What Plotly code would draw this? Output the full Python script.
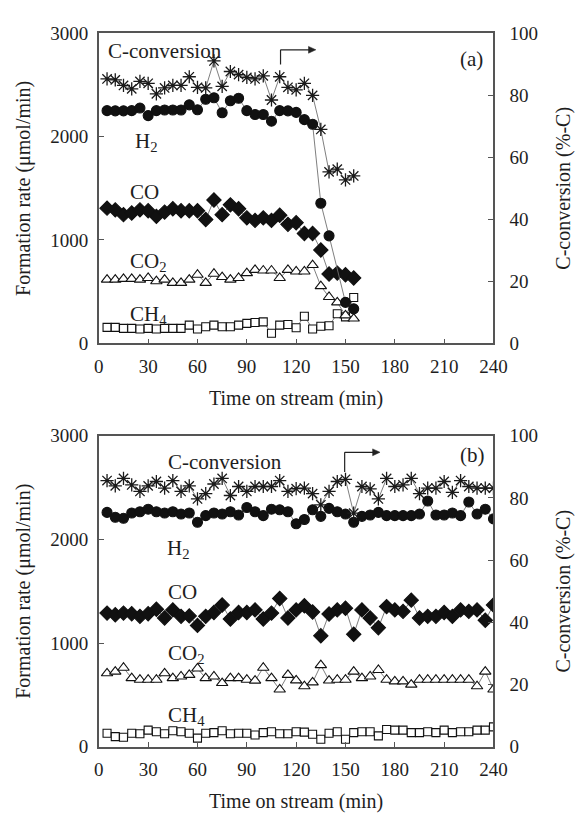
import plotly.graph_objects as go

# ---------------- data ----------------
ta = list(range(5, 160, 5))  # 31 points, panel (a)
h2_a = [2252, 2250, 2250, 2252, 2277, 2204, 2252, 2258, 2258, 2258,
        2308, 2260, 2362, 2377, 2232, 2348, 2372, 2252, 2215, 2215,
        2150, 2252, 2250, 2235, 2165, 2120, 1355, 1040, None, 396, 333]
co_a = [1308, 1292, 1245, 1261, 1292, 1283, 1229, 1270, 1302, 1283,
        1283, 1283, 1198, 1387, 1245, 1340, 1302, 1214, 1189, 1214,
        1189, 1239, 1151, 1167, 1063, 1063, 903, 670, 679, 663, 632]
co2_a = [616, 616, 623, 623, 616, 632, 601, 616, 585, 585,
         616, 663, 585, 673, 641, 616, 632, 679, 710, 704,
         704, 632, 710, 695, 695, 757, 553, 448, 396, 270, 239]
ch4_a = [154, 154, 144, 144, 138, 144, 138, 144, 144, 144,
         176, 138, 160, 176, 160, 160, 176, 192, 201, 207,
         97, 176, 182, 150, 262, 138, 165, 170, 286, 255, 443]
conv_a = [85.3, 85.0, 83.2, 82.1, 84.5, 83.9, 80.5, 82.4, 83.2, 83.2,
          86.0, 82.6, 82.4, 91.1, 82.9, 87.7, 86.7, 85.8, 85.3, 86.3,
          78.5, 86.0, 82.6, 81.8, 83.9, 80.0, 69.0, 55.3, 56.2, 52.7, 54.0]

tb = list(range(5, 245, 5))  # 48 points, panel (b)
h2_b = [2261, 2214, 2204, 2255, 2267, 2292, 2267, 2255, 2267, 2245,
        2255, 2166, 2230, 2255, 2245, 2267, 2236, 2308, 2267, 2230,
        2292, 2286, 2267, 2151, 2192, 2286, 2223, 2300, 2267, 2245,
        2166, 2223, 2236, 2261, 2230, 2230, 2230, 2230, 2245, 2371,
        2236, 2236, 2255, 2230, 2361, 2245, 2292, 2198]
co_b = [1289, 1273, 1289, 1283, 1258, 1283, 1326, 1242, 1320, 1258,
        1262, 1170, 1258, 1295, 1367, 1232, 1295, 1295, 1320, 1232,
        1289, 1430, 1242, 1320, 1360, 1300, 1070, 1280, 1320, 1336,
        1085, 1320, 1242, 1148, 1352, 1320, 1305, 1414, 1242, 1258,
        1258, 1295, 1258, 1320, 1305, 1320, 1220, 1367]
co2_b = [708, 724, 762, 661, 646, 646, 646, 708, 661, 677,
         693, 755, 661, 677, 614, 661, 661, 646, 637, 762,
         661, 552, 693, 640, 583, 620, 787, 638, 646, 646,
         724, 661, 677, 740, 646, 630, 630, 599, 646, 646,
         646, 646, 646, 646, 646, 583, 724, 552]
ch4_b = [129, 97, 91, 129, 125, 160, 144, 125, 154, 144,
         129, 82, 129, 135, 154, 125, 129, 129, 113, 135,
         144, 125, 125, 144, 140, 120, 72, 130, 144, 72,
         135, 144, 144, 104, 166, 160, 160, 135, 135, 144,
         135, 160, 135, 144, 144, 160, 160, 191]
conv_b = [85.6, 83.9, 86.3, 84.2, 82.1, 83.9, 85.3, 83.2, 85.6, 82.1,
          83.9, 79.7, 81.4, 84.5, 86.3, 80.8, 83.7, 82.1, 83.7, 83.7,
          83.7, 85.6, 82.1, 83.0, 83.2, 81.4, 77.8, 82.1, 85.3, 86.0,
          75.1, 83.7, 82.9, 79.7, 86.3, 83.7, 84.2, 86.3, 81.4, 83.2,
          83.2, 85.3, 81.8, 85.6, 83.7, 83.2, 83.2, 83.2]

x_ticks = [0, 30, 60, 90, 120, 150, 180, 210, 240]
left_ticks = [0, 1000, 2000, 3000]
right_ticks = [0, 20, 40, 60, 80, 100]

# ---------------- style ----------------
FONT = "Liberation Serif"
TXT = "#1e1e1e"
LINE = dict(color="#707070", width=0.9)
AX = "#555555"
INK = "#111111"

def series(x, y, sym, xa, ya, size, fill):
    return go.Scatter(
        x=x, y=y, xaxis=xa, yaxis=ya, mode="lines+markers",
        connectgaps=True, line=LINE, showlegend=False,
        marker=dict(symbol=sym, size=size, color=fill,
                    line=dict(color=INK, width=1.1)))

fig = go.Figure()
for (x, h2, co, co2, ch4, conv, xa, ya, ya2) in [
        (ta, h2_a, co_a, co2_a, ch4_a, conv_a, "x", "y", "y2"),
        (tb, h2_b, co_b, co2_b, ch4_b, conv_b, "x2", "y3", "y4")]:
    fig.add_trace(series(x, ch4, "square", xa, ya, 8, "white"))
    fig.add_trace(series(x, co2, "triangle-up", xa, ya, 10, "white"))
    fig.add_trace(series(x, co, "diamond", xa, ya, 11, INK))
    fig.add_trace(series(x, h2, "circle", xa, ya, 10, INK))
    fig.add_trace(go.Scatter(
        x=x, y=conv, xaxis=xa, yaxis=ya2, mode="lines+markers", showlegend=False,
        line=LINE,
        marker=dict(symbol="asterisk-open", size=11, color="#1a1a1a",
                    line=dict(color="#1a1a1a", width=1.3))))

W, H = 581, 821
xdom = [97 / W, 505 / W]
dom_a = [(H - 342) / H, (H - 24) / H]
dom_b = [(H - 756) / H, (H - 437) / H]

tickfont = dict(family=FONT, size=19, color=TXT)
titlefont = dict(family=FONT, size=20, color=TXT)

def xaxis(anchor):
    return dict(domain=xdom, anchor=anchor, range=[0, 240], tickvals=x_ticks,
                ticks="inside", ticklen=5, tickcolor=AX, showline=True,
                linecolor=AX, linewidth=1.5, mirror=True, showgrid=False,
                zeroline=False, tickfont=tickfont, ticklabelstandoff=5,
                title=dict(text="Time on stream (min)", font=titlefont, standoff=15))

def yleft(dom, anchor):
    return dict(domain=dom, anchor=anchor, range=[0, 3000], tickvals=left_ticks,
                ticks="inside", ticklen=5, tickcolor=AX, showline=True,
                linecolor=AX, linewidth=1.5, mirror=True, showgrid=False,
                zeroline=False, tickfont=tickfont, ticklabelstandoff=5,
                title=dict(text="Formation rate (μmol/min)", font=titlefont, standoff=14))

def yright(over, anchor):
    return dict(overlaying=over, anchor=anchor, side="right", range=[0, 100],
                tickvals=right_ticks, ticks="inside", ticklen=5, tickcolor=AX,
                showline=False, showgrid=False, zeroline=False, tickfont=tickfont,
                ticklabelstandoff=15,
                title=dict(text="C-conversion (%-C)", font=titlefont, standoff=19))

fig.update_layout(
    width=W, height=H, margin=dict(l=0, r=0, t=0, b=0),
    paper_bgcolor="white", plot_bgcolor="white",
    xaxis=xaxis("y"), xaxis2=xaxis("y3"),
    yaxis=yleft(dom_a, "x"), yaxis2=yright("y", "x"),
    yaxis3=yleft(dom_b, "x2"), yaxis4=yright("y3", "x2"),
)

lab = dict(family=FONT, size=21, color=TXT)

def label(text, x, y, xa, ya, xanchor="left"):
    fig.add_annotation(text=text, x=x, y=y, xref=xa, yref=ya, showarrow=False,
                       xanchor=xanchor, yanchor="middle", font=lab)

# panel (a) labels
label("C-conversion", 4.5, 2830, "x", "y")
label("(a)", 235, 2755, "x", "y", "right")
label("H<sub>2</sub>", 21, 1950, "x", "y")
label("CO", 18, 1462, "x", "y")
label("CO<sub>2</sub>", 17.5, 790, "x", "y")
label("CH<sub>4</sub>", 17.5, 270, "x", "y")
# panel (b) labels
label("C-conversion", 41, 2747, "x2", "y3")
label("(b)", 236, 2813, "x2", "y3", "right")
label("H<sub>2</sub>", 40, 1905, "x2", "y3")
label("CO", 41, 1496, "x2", "y3")
label("CO<sub>2</sub>", 41, 890, "x2", "y3")
label("CH<sub>4</sub>", 41, 300, "x2", "y3")

# elbow arrows pointing to the right-hand axis (decoration)
ARW = "#222222"
for xa, ya, x0, x1, ytop, ybot in [("x", "y2", 110.5, 132, 94.7, 90.0),
                                    ("x2", "y4", 149.5, 171, 94.7, 88.4)]:
    fig.add_shape(type="line", xref=xa, yref=ya, x0=x0, x1=x0, y0=ybot, y1=ytop,
                  line=dict(color=ARW, width=1.2))
    fig.add_shape(type="line", xref=xa, yref=ya, x0=x0, x1=x1 - 3, y0=ytop, y1=ytop,
                  line=dict(color=ARW, width=1.2))
    fig.add_shape(type="path", xref=xa, yref=ya,
                  path=f"M {x1} {ytop} L {x1 - 4.5} {ytop + 1.1} L {x1 - 4.5} {ytop - 1.1} Z",
                  fillcolor=ARW, line=dict(color=ARW, width=0.5))

fig.write_html("out.html")
